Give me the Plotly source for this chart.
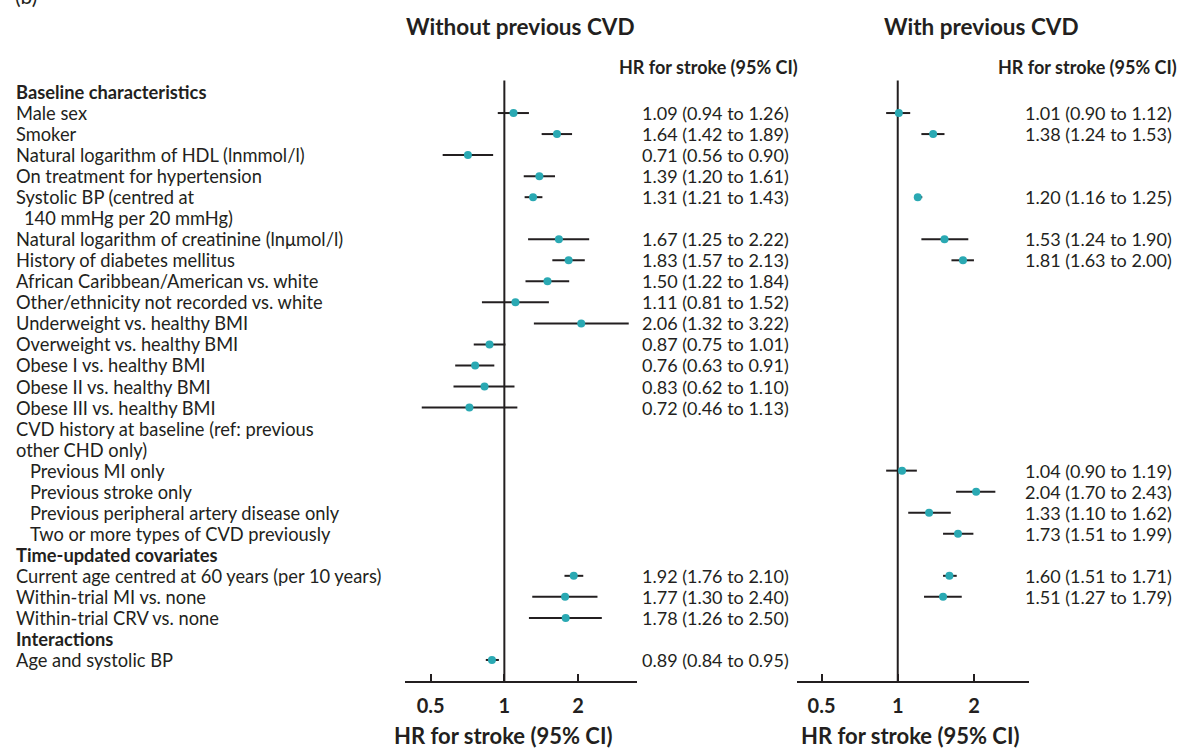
import plotly.graph_objects as go
import math

W, H = 1180, 749

# ---- data ----
labels = [
    "Baseline characteristics", "Male sex", "Smoker", "Natural logarithm of HDL (lnmmol/l)",
    "On treatment for hypertension", "Systolic BP (centred at", "140 mmHg per 20 mmHg)",
    "Natural logarithm of creatinine (lnμmol/l)", "History of diabetes mellitus",
    "African Caribbean/American vs. white", "Other/ethnicity not recorded vs. white",
    "Underweight vs. healthy BMI", "Overweight vs. healthy BMI", "Obese I vs. healthy BMI",
    "Obese II vs. healthy BMI", "Obese III vs. healthy BMI",
    "CVD history at baseline (ref: previous", "other CHD only)",
    "Previous MI only", "Previous stroke only", "Previous peripheral artery disease only",
    "Two or more types of CVD previously", "Time-updated covariates",
    "Current age centred at 60 years (per 10 years)", "Within-trial MI vs. none",
    "Within-trial CRV vs. none", "Interactions", "Age and systolic BP",
]
bold_rows = [0, 22, 26]
indent_rows = [18, 19, 20, 21]
half_indent_rows = [6]

# without previous CVD: row, HR, low, high
left_rows = [1, 2, 3, 4, 5, 7, 8, 9, 10, 11, 12, 13, 14, 15, 23, 24, 25, 27]
left_hr = [1.09, 1.64, 0.71, 1.39, 1.31, 1.67, 1.83, 1.50, 1.11, 2.06, 0.87, 0.76, 0.83, 0.72, 1.92, 1.77, 1.78, 0.89]
left_lo = [0.94, 1.42, 0.56, 1.20, 1.21, 1.25, 1.57, 1.22, 0.81, 1.32, 0.75, 0.63, 0.62, 0.46, 1.76, 1.30, 1.26, 0.84]
left_hi = [1.26, 1.89, 0.90, 1.61, 1.43, 2.22, 2.13, 1.84, 1.52, 3.22, 1.01, 0.91, 1.10, 1.13, 2.10, 2.40, 2.50, 0.95]

# with previous CVD
right_rows = [1, 2, 5, 7, 8, 18, 19, 20, 21, 23, 24]
right_hr = [1.01, 1.38, 1.20, 1.53, 1.81, 1.04, 2.04, 1.33, 1.73, 1.60, 1.51]
right_lo = [0.90, 1.24, 1.16, 1.24, 1.63, 0.90, 1.70, 1.10, 1.51, 1.51, 1.27]
right_hi = [1.12, 1.53, 1.25, 1.90, 2.00, 1.19, 2.43, 1.62, 1.99, 1.71, 1.79]

tick_vals = [0.5, 1, 2]
tick_text = ["0.5", "1", "2"]

DARK = "#231f20"
TEAL = "#2aa9b3"
FONT = "Lato"

def px(x):
    return x / W

def py(y):
    return 1 - y / H

fig = go.Figure()

def seg(rows, lo, hi):
    xs, ys = [], []
    for r, a, b in zip(rows, lo, hi):
        xs += [a, b, None]
        ys += [r, r, None]
    return xs, ys

for xa, ya, rows, hr, lo, hi in [("x", "y", left_rows, left_hr, left_lo, left_hi),
                                  ("x2", "y2", right_rows, right_hr, right_lo, right_hi)]:
    fig.add_trace(go.Scatter(x=[1, 1], y=[-0.55, 28], xaxis=xa, yaxis=ya, mode="lines",
                             line=dict(color=DARK, width=2), hoverinfo="skip", showlegend=False))
    xs, ys = seg(rows, lo, hi)
    fig.add_trace(go.Scatter(x=xs, y=ys, xaxis=xa, yaxis=ya, mode="lines",
                             line=dict(color=DARK, width=2), hoverinfo="skip", showlegend=False))
    fig.add_trace(go.Scatter(x=hr, y=rows, xaxis=xa, yaxis=ya, mode="markers",
                             marker=dict(color=TEAL, size=8), showlegend=False))

y_dom = [1 - 681 / H, 1]
yrange = [28, -92 / ((681 - 92) / 28)]

axis_common = dict(type="log", showline=True, linecolor=DARK, linewidth=2,
                   ticks="inside", ticklen=7, tickwidth=2, tickcolor=DARK,
                   tickvals=tick_vals, ticktext=tick_text, showgrid=False, zeroline=False,
                   tickfont=dict(family=FONT, size=20, color=DARK, weight="bold"),
                   ticklabelstandoff=6, fixedrange=True)
fig.update_layout(
    width=W, height=H, margin=dict(l=0, r=0, t=0, b=0),
    paper_bgcolor="white", plot_bgcolor="white",
    xaxis=dict(domain=[px(405), px(637)], range=[math.log10(0.393), math.log10(3.48)],
               anchor="y", **axis_common),
    xaxis2=dict(domain=[px(797), px(1029)], range=[math.log10(0.40), math.log10(3.30)],
                anchor="y2", **axis_common),
    yaxis=dict(domain=y_dom, range=yrange, visible=False, anchor="x"),
    yaxis2=dict(domain=y_dom, range=yrange, visible=False, anchor="x2"),
    showlegend=False,
)

ann = []
for i, lab in enumerate(labels):
    x0 = 14
    if i in indent_rows:
        x0 = 28
    elif i in half_indent_rows:
        x0 = 22
    text = "<b>%s</b>" % lab if i in bold_rows else lab
    ann.append(dict(x=px(x0), y=i, xref="paper", yref="y", text=text, showarrow=False,
                    xanchor="left", yanchor="middle",
                    font=dict(family=FONT, size=18.3, color=DARK)))

def fmt(h, a, b):
    return "%.2f (%.2f to %.2f)" % (h, a, b)

for rows, hr, lo, hi, x0 in [(left_rows, left_hr, left_lo, left_hi, 640),
                             (right_rows, right_hr, right_lo, right_hi, 1023)]:
    for r, h, a, b in zip(rows, hr, lo, hi):
        ann.append(dict(x=px(x0), y=r, xref="paper", yref="y", text=fmt(h, a, b),
                        showarrow=False, xanchor="left", yanchor="middle",
                        font=dict(family=FONT, size=18, color=DARK)))

# column headers
for xr, t in [(800, "HR for stroke (95% CI)"), (1179, "HR for stroke (95% CI)")]:
    ann.append(dict(x=px(xr), y=py(67), xref="paper", yref="paper", text="<b>%s</b>" % t,
                    showarrow=False, xanchor="right", yanchor="middle",
                    font=dict(family=FONT, size=18, color=DARK)))

# panel titles
for xc, t in [(520, "Without previous CVD"), (981, "With previous CVD")]:
    ann.append(dict(x=px(xc), y=py(27), xref="paper", yref="paper", text="<b>%s</b>" % t,
                    showarrow=False, xanchor="center", yanchor="middle",
                    font=dict(family=FONT, size=22.5, color=DARK)))

# axis titles
for xc in [503, 910]:
    ann.append(dict(x=px(xc), y=py(735), xref="paper", yref="paper",
                    text="<b>HR for stroke (95% CI)</b>",
                    showarrow=False, xanchor="center", yanchor="middle",
                    font=dict(family=FONT, size=22, color=DARK)))

ann.append(dict(x=px(13), y=py(10), xref="paper", yref="paper", text="(b)",
                showarrow=False, xanchor="left", yanchor="bottom",
                font=dict(family=FONT, size=21, color=DARK)))

fig.update_layout(annotations=ann)
fig.write_html("out.html")
